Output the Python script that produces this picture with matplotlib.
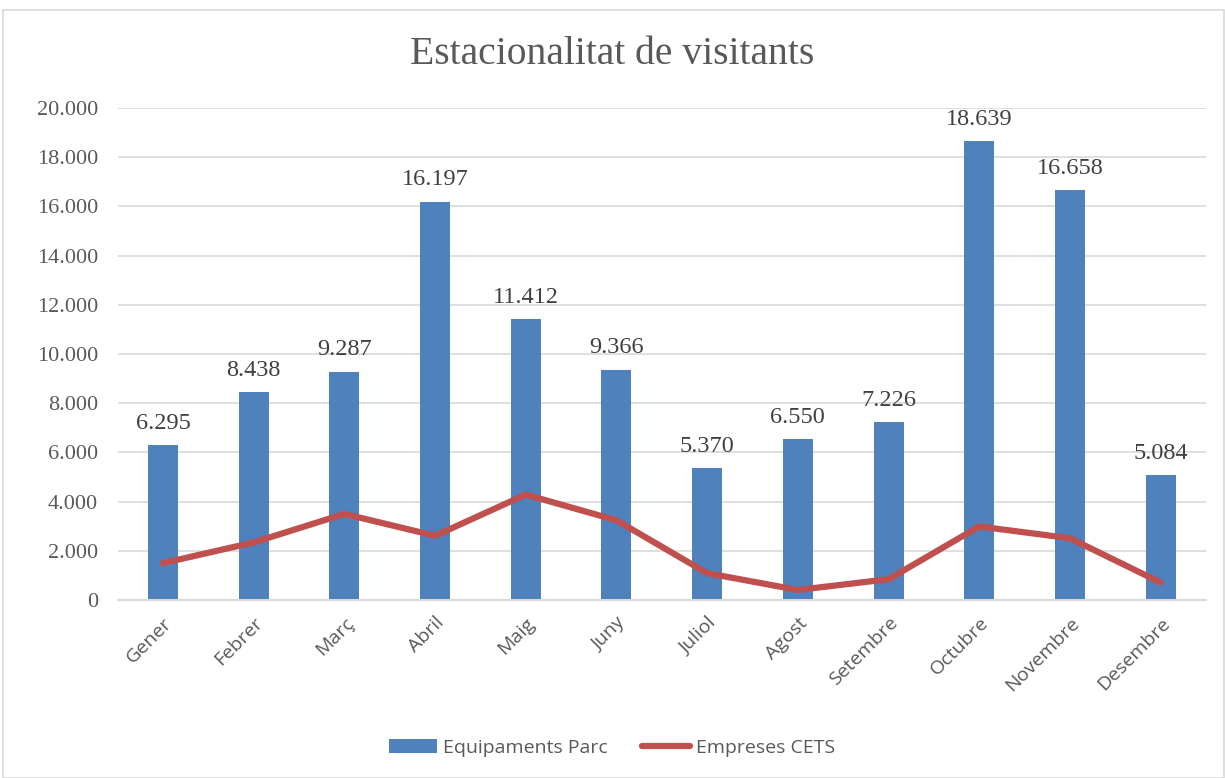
import matplotlib
matplotlib.use("Agg")
import matplotlib.pyplot as plt
from matplotlib.patches import Rectangle
import numpy as np

months = ["Gener", "Febrer", "Març", "Abril", "Maig", "Juny", "Juliol",
          "Agost", "Setembre", "Octubre", "Novembre", "Desembre"]
equipaments = [6295, 8438, 9287, 16197, 11412, 9366, 5370, 6550, 7226, 18639, 16658, 5084]
empreses = [1500, 2340, 3500, 2610, 4285, 3240, 1090, 408, 845, 2990, 2510, 710]
yticks = [0, 2000, 4000, 6000, 8000, 10000, 12000, 14000, 16000, 18000, 20000]

def fmt(v):
    return f"{v:,.0f}".replace(",", ".")

W, H = 1225, 778
fig = plt.figure(figsize=(W / 100, H / 100), dpi=100)
fig.patch.set_facecolor("white")
fig.patches.append(Rectangle((3 / W, 0), (W - 4) / W, (H - 10) / H, transform=fig.transFigure,
                             fill=False, edgecolor="#d9d9d9", linewidth=1.2))

ax = fig.add_axes([117.6 / W, 1 - 600 / H, (1206 - 117.6) / W, (600 - 108) / H])
x = np.arange(len(months))
bars = ax.bar(x, equipaments, width=0.33, color="#4f81bd", zorder=2, label="Equipaments Parc")
ax.plot(x, empreses, color="#c0504d", linewidth=4.5, zorder=3, solid_capstyle="round",
        label="Empreses CETS")

ax.set_xlim(-0.5, len(months) - 0.5)
ax.set_ylim(0, 20000)
ax.set_yticks(yticks)
ax.set_yticklabels([fmt(v) for v in yticks], family="Liberation Serif", fontsize=16, color="#595959")
ax.set_xticks(x)
ax.set_xticklabels(months, rotation=45, ha="right", rotation_mode="anchor",
                   family="Open Sans", fontsize=14, color="#595959")
ax.tick_params(axis="both", length=0)
ax.tick_params(axis="x", pad=10)
ax.tick_params(axis="y", pad=14)
ax.grid(axis="y", color="#d9d9d9", linewidth=1.2, zorder=0)
for s in ["top", "right", "left"]:
    ax.spines[s].set_visible(False)
ax.spines["bottom"].set_color("#d9d9d9")
ax.spines["bottom"].set_linewidth(1.5)

for xi, v in zip(x, equipaments):
    ax.annotate(fmt(v), (xi, v), xytext=(0, 8), textcoords="offset points", ha="center",
                va="bottom", family="Liberation Serif", fontsize=17.5, color="#404040")

fig.text(0.5, 1 - 55 / H, "Estacionalitat de visitants", ha="center", va="center",
         family="Liberation Serif", fontsize=28.5, color="#595959")

fig.legend(handles=[bars, ax.lines[0]], loc="center", bbox_to_anchor=(612 / W, 1 - 748 / H),
           ncol=2, frameon=False, prop={"family": "Open Sans", "size": 14},
           labelcolor="#595959", handlelength=2.5, handleheight=0.75, handletextpad=0.3,
           columnspacing=1.75)

fig.savefig("out.png", dpi=100)
